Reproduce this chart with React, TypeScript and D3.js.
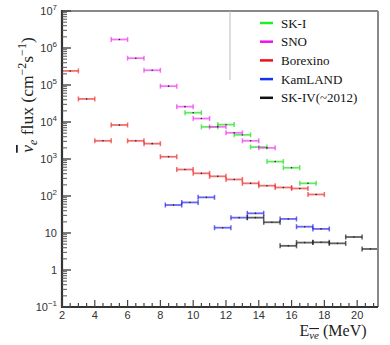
import React, { useEffect, useRef } from 'react';
import * as d3 from 'd3';

// bin lower edges (MeV) and flux values
const snoLo = [5, 6, 7, 8, 9, 10, 11, 12, 13, 14];
const snoFlux = [1.7e6, 5.3e5, 2.5e5, 9.3e4, 2.6e4, 1.24e4, 7.4e3, 5.1e3, 3.1e3, 2.0e3];

const skiLo = [9.5, 10.5, 11.5, 12.5, 13.5, 14.5, 15.5, 16.5];
const skiFlux = [1.78e4, 7.4e3, 8.5e3, 4.5e3, 2.1e3, 850, 580, 220];

const borLo = [2, 3, 4, 5, 6, 7, 8, 9, 10, 11, 12, 13, 14, 15, 16, 17];
const borFlux = [2.4e5, 4.2e4, 3.1e3, 8.3e3, 3.1e3, 2.6e3, 1.15e3, 520, 410, 340, 280, 220, 190, 170, 160, 110];

const kamLo = [8.3, 9.3, 10.3, 11.3, 12.3, 13.3, 15.3, 16.3, 17.3];
const kamFlux = [57, 67, 92, 13.9, 26, 34, 24, 14.8, 12.9];

const sk4Lo = [13.3, 14.3, 15.3, 16.3, 17.3, 18.3, 19.3, 20.3];
const sk4Flux = [26, 19.5, 4.5, 5.5, 5.6, 5.25, 7.8, 3.7];

const binWidth = 1;

const xTicks = [2, 4, 6, 8, 10, 12, 14, 16, 18, 20];
const yExps = [-1, 0, 1, 2, 3, 4, 5, 6, 7];

const series = [
  { name: 'SK-I', lo: skiLo, flux: skiFlux, bar: 'rgba(50,225,50,0.75)', key: '#22ee22' },
  { name: 'SNO', lo: snoLo, flux: snoFlux, bar: 'rgba(238,60,238,0.7)', key: '#ee11ee' },
  { name: 'Borexino', lo: borLo, flux: borFlux, bar: 'rgba(238,50,50,0.7)', key: '#ee1111' },
  { name: 'KamLAND', lo: kamLo, flux: kamFlux, bar: 'rgba(40,40,238,0.7)', key: '#1133ee' },
  { name: 'SK-IV(~2012)', lo: sk4Lo, flux: sk4Flux, bar: 'rgba(30,30,30,0.7)', key: '#111111' },
];

const W = 390;
const H = 345;
const plot = { left: 62, right: 378, top: 11, bottom: 307 };

export default function App() {
  const svgRef = useRef<SVGSVGElement>(null);

  useEffect(() => {
    const svg = d3.select(svgRef.current);
    svg.selectAll('*').remove();

    const x = d3.scaleLinear().domain([2, 21.27]).range([plot.left, plot.right]);
    const y = d3.scaleLog().domain([0.1, 1e7]).range([plot.bottom, plot.top]);

    const sans = 'Liberation Sans, Arial, sans-serif';
    const serif = 'Liberation Serif, Times New Roman, serif';

    const defs = svg.append('defs');
    defs.append('clipPath').attr('id', 'clip')
      .append('rect')
      .attr('x', plot.left).attr('y', plot.top)
      .attr('width', plot.right - plot.left).attr('height', plot.bottom - plot.top);

    // data: horizontal bin bars with caps and a center dot
    const dataG = svg.append('g').attr('clip-path', 'url(#clip)');
    series.forEach(s => {
      s.lo.forEach((lo, i) => {
        const x0 = x(lo);
        const x1 = x(lo + binWidth);
        const yy = y(s.flux[i]);
        const g = dataG.append('g');
        g.append('line').attr('x1', x0).attr('x2', x1).attr('y1', yy).attr('y2', yy)
          .attr('stroke', s.bar).attr('stroke-width', 1.8);
        [x0, x1].forEach(cx => {
          g.append('line').attr('x1', cx).attr('x2', cx).attr('y1', yy - 2.5).attr('y2', yy + 2.5)
            .attr('stroke', s.bar).attr('stroke-width', 1.5);
        });
        g.append('circle').attr('cx', (x0 + x1) / 2).attr('cy', yy).attr('r', 0.8)
          .attr('fill', '#222');
      });
    });

    // frame
    svg.append('line').attr('x1', plot.left).attr('x2', plot.right).attr('y1', plot.top).attr('y2', plot.top)
      .attr('stroke', '#888').attr('stroke-width', 2);
    svg.append('line').attr('x1', plot.right).attr('x2', plot.right).attr('y1', plot.top).attr('y2', plot.bottom)
      .attr('stroke', '#888').attr('stroke-width', 2);
    svg.append('line').attr('x1', plot.left).attr('x2', plot.left).attr('y1', plot.top - 1).attr('y2', plot.bottom + 1)
      .attr('stroke', '#333').attr('stroke-width', 2.2);
    svg.append('line').attr('x1', plot.left - 1).attr('x2', plot.right).attr('y1', plot.bottom).attr('y2', plot.bottom)
      .attr('stroke', '#333').attr('stroke-width', 2.2);

    // x ticks (inward)
    const minorX = d3.range(2, 21.26, 0.5);
    minorX.forEach(v => {
      const major = Math.abs(v % 2) < 1e-9;
      svg.append('line').attr('x1', x(v)).attr('x2', x(v))
        .attr('y1', plot.bottom).attr('y2', plot.bottom - (major ? 7 : 4))
        .attr('stroke', '#444').attr('stroke-width', 1.2);
    });
    xTicks.forEach(v => {
      svg.append('text').attr('x', x(v)).attr('y', 319)
        .attr('text-anchor', 'middle').attr('font-family', sans).attr('font-size', 11)
        .attr('fill', '#333').text(v);
    });

    // y ticks (inward)
    yExps.forEach(e => {
      const base = Math.pow(10, e);
      svg.append('line').attr('x1', plot.left).attr('x2', plot.left + 9)
        .attr('y1', y(base)).attr('y2', y(base)).attr('stroke', '#444').attr('stroke-width', 1.4);
      if (e < 7) {
        d3.range(2, 10).forEach(m => {
          const v = m * base;
          svg.append('line').attr('x1', plot.left).attr('x2', plot.left + 5)
            .attr('y1', y(v)).attr('y2', y(v)).attr('stroke', '#555').attr('stroke-width', 1);
        });
      }
      const t = svg.append('text').attr('x', 57).attr('y', y(base) + 4)
        .attr('text-anchor', 'end').attr('font-family', sans).attr('font-size', 11).attr('fill', '#333');
      if (e === 0) t.text('1');
      else if (e === 1) t.text('10');
      else {
        t.append('tspan').text('10');
        t.append('tspan').attr('dy', -5).attr('font-size', 8).text(e < 0 ? '\u2212' + Math.abs(e) : String(e));
      }
    });

    // y label
    const yl = svg.append('text')
      .attr('transform', 'translate(33,95) rotate(-90)')
      .attr('text-anchor', 'middle').attr('font-family', serif).attr('font-size', 17.5).attr('fill', '#222');
    yl.append('tspan').attr('font-style', 'italic').attr('text-decoration', 'overline').text('\u03BD');
    yl.append('tspan').attr('font-style', 'italic').attr('font-size', 12).attr('dy', 4).text('e');
    yl.append('tspan').attr('dy', -4).text(' flux (cm');
    yl.append('tspan').attr('font-size', 12).attr('dy', -7).text('\u22122');
    yl.append('tspan').attr('dy', 7).text('s');
    yl.append('tspan').attr('font-size', 12).attr('dy', -7).text('\u22121');
    yl.append('tspan').attr('dy', 7).text(')');

    // x label
    const xl = svg.append('text').attr('x', 333).attr('y', 336)
      .attr('text-anchor', 'middle').attr('font-family', serif).attr('font-size', 16).attr('fill', '#222');
    xl.append('tspan').text('E');
    xl.append('tspan').attr('font-size', 11).attr('dy', 3).attr('font-style', 'italic')
      .attr('text-decoration', 'overline').text('\u03BDe');
    xl.append('tspan').attr('dy', -3).text(' (MeV)');

    // legend
    svg.append('line').attr('x1', 230).attr('x2', 230).attr('y1', plot.top).attr('y2', 80)
      .attr('stroke', '#bbb').attr('stroke-width', 1);
    series.forEach((s, i) => {
      const ly = 23 + i * 18.7;
      svg.append('line').attr('x1', 260).attr('x2', 273).attr('y1', ly).attr('y2', ly)
        .attr('stroke', s.key).attr('stroke-width', 2.5);
      svg.append('text').attr('x', 281).attr('y', ly + 4.5)
        .attr('font-family', serif).attr('font-size', 13).attr('fill', '#111').text(s.name);
    });
  }, []);

  return (
    <svg ref={svgRef} width={W} height={H}
      style={{ position: 'absolute', left: 0, top: 0, background: '#fff' }} />
  );
}
